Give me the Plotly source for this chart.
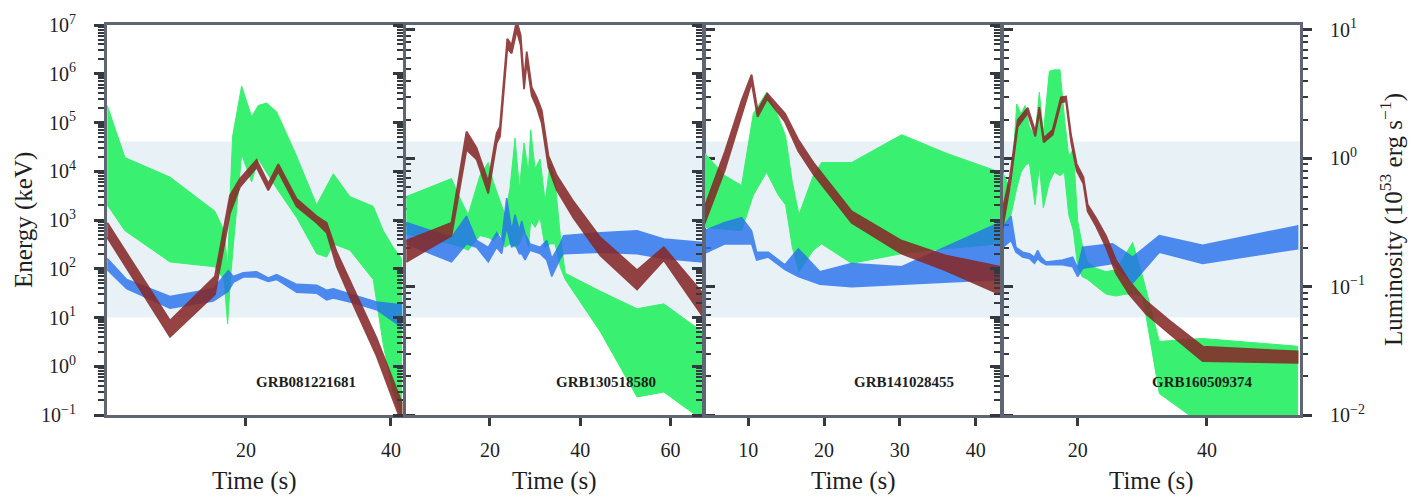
import plotly.graph_objects as go

# ---------------- data (log10 values) ----------------
# Energy bands are log10(E / keV); luminosity bands are log10(L / 1e53 erg s^-1)
GRB_NAMES = ["GRB081221681", "GRB130518580", "GRB141028455", "GRB160509374"]

# Panel 1
P1_GREEN_T = [0.87, 3.31, 9.52, 15.72, 16.97, 17.47, 17.89, 18.16, 19.40, 20.78, 21.70, 22.85, 24.23, 26.99, 29.75, 31.13, 32.05, 34.34, 37.56, 38.94, 40.32, 41.47]
P1_GREEN_HI = [5.35, 4.28, 3.88, 3.18, 2.78, 2.04, 3.78, 4.72, 5.75, 5.12, 5.35, 5.40, 5.22, 4.31, 3.31, 3.68, 3.95, 3.48, 3.28, 2.78, 2.44, 2.21]
P1_GREEN_LO = [3.31, 2.78, 2.14, 2.04, 1.78, 0.87, 1.84, 2.31, 4.35, 3.78, 4.25, 3.98, 3.65, 3.05, 2.31, 2.24, 2.51, 2.38, 1.78, 0.44, -0.56, -1.03]
P1_BLUE_T = [0.87, 3.54, 9.52, 15.49, 17.56, 18.25, 19.63, 21.47, 23.08, 24.23, 26.99, 29.75, 31.13, 32.05, 34.80, 38.02, 41.47]
P1_BLUE_HI = [2.21, 1.78, 1.43, 1.59, 1.96, 1.84, 1.92, 1.94, 1.81, 1.88, 1.68, 1.66, 1.56, 1.59, 1.46, 1.32, 1.26]
P1_BLUE_LO = [1.98, 1.59, 1.19, 1.34, 1.54, 1.72, 1.83, 1.83, 1.74, 1.78, 1.52, 1.50, 1.36, 1.40, 1.30, 1.16, 0.81]
P1_LUM_T = [0.87, 9.52, 15.72, 17.79, 19.17, 21.47, 23.08, 24.46, 26.99, 29.75, 31.13, 32.51, 34.80, 38.02, 41.47]
P1_LUM_HI = [-0.503, -1.264, -0.920, -0.290, -0.160, -0.013, -0.198, -0.046, -0.317, -0.452, -0.503, -0.730, -1.010, -1.400, -1.900]
P1_LUM_LO = [-0.617, -1.391, -1.060, -0.430, -0.223, -0.071, -0.249, -0.104, -0.376, -0.503, -0.579, -0.840, -1.140, -1.540, -2.060]

# Panel 2
P2_GREEN_T = [1.48, 11.48, 13.70, 15.19, 17.78, 19.63, 20.74, 22.22, 23.33, 24.44, 25.56, 26.52, 27.56, 28.52, 29.04, 30.00, 31.11, 32.22, 33.33, 34.44, 35.56, 36.67, 44.44, 52.59, 58.52, 67.04]
P2_GREEN_HI = [3.48, 3.85, 3.38, 3.11, 3.91, 4.18, 3.78, 3.38, 3.11, 3.65, 4.68, 3.65, 4.58, 3.98, 4.85, 4.05, 4.25, 3.38, 4.15, 3.78, 2.71, 1.91, 1.54, 1.18, 1.28, 0.71]
P2_GREEN_LO = [2.71, 2.51, 2.44, 2.38, 2.68, 2.64, 2.58, 2.74, 2.44, 2.51, 2.44, 2.51, 2.78, 2.44, 2.98, 2.85, 3.05, 2.44, 2.51, 2.51, 2.04, 1.78, 0.71, -0.63, -0.53, -1.10]
P2_BLUE_T = [1.48, 11.48, 14.81, 17.04, 19.63, 21.48, 22.59, 23.70, 24.81, 25.56, 26.52, 27.04, 27.78, 28.89, 31.11, 32.59, 33.70, 35.56, 36.30, 44.44, 52.59, 58.52, 67.04]
P2_BLUE_HI = [2.95, 2.64, 3.08, 2.58, 2.44, 2.74, 2.58, 3.45, 2.78, 3.11, 2.78, 2.98, 2.71, 2.51, 2.44, 2.58, 2.21, 2.51, 2.68, 2.74, 2.78, 2.61, 2.54]
P2_BLUE_LO = [2.51, 2.14, 2.51, 2.44, 2.14, 2.44, 2.31, 2.85, 2.44, 2.51, 2.31, 2.31, 2.18, 2.38, 2.31, 2.18, 1.84, 2.21, 2.31, 2.34, 2.31, 2.21, 2.14]
P2_LUM_T = [1.48, 11.48, 14.81, 17.04, 19.63, 21.48, 22.22, 23.85, 24.81, 25.93, 26.81, 27.56, 28.15, 29.26, 30.37, 31.48, 32.96, 34.81, 38.52, 44.44, 52.59, 58.52, 67.04]
P2_LUM_HI = [-0.642, -0.503, 0.208, 0.081, -0.185, 0.195, 0.246, 0.931, 0.881, 1.071, 0.957, 0.601, 0.830, 0.551, 0.475, 0.373, 0.018, -0.135, -0.338, -0.617, -0.871, -0.693, -1.048]
P2_LUM_LO = [-0.807, -0.604, 0.068, -0.008, -0.274, 0.119, 0.170, 0.855, 0.817, 0.995, 0.881, 0.538, 0.754, 0.487, 0.398, 0.272, -0.071, -0.249, -0.465, -0.756, -1.023, -0.794, -1.226]

# Panel 3
P3_GREEN_T = [4.19, 6.92, 9.12, 10.66, 12.42, 13.96, 14.93, 15.81, 16.69, 18.58, 19.68, 23.64, 30.24, 35.96, 43.22]
P3_GREEN_HI = [4.38, 3.91, 3.71, 5.18, 5.62, 5.12, 4.72, 3.78, 3.11, 3.91, 4.18, 4.18, 4.75, 4.38, 3.98]
P3_GREEN_LO = [2.85, 2.81, 2.78, 3.51, 3.98, 3.51, 3.31, 2.44, 1.94, 2.38, 2.51, 2.11, 2.31, 2.41, 2.51]
P3_BLUE_T = [4.19, 6.92, 9.12, 10.44, 11.10, 12.64, 14.84, 16.60, 19.46, 23.64, 30.24, 35.96, 43.22]
P3_BLUE_HI = [2.78, 2.95, 3.05, 2.78, 2.34, 2.34, 2.08, 2.41, 1.94, 2.11, 2.04, 2.44, 2.95]
P3_BLUE_LO = [2.31, 2.51, 2.51, 2.51, 2.18, 2.24, 1.98, 1.84, 1.68, 1.63, 1.68, 1.72, 1.78]
P3_LUM_T = [4.19, 6.92, 9.12, 10.44, 11.23, 12.51, 14.84, 16.60, 18.58, 23.64, 30.24, 35.96, 43.22]
P3_LUM_HI = [-0.388, 0.050, 0.450, 0.652, 0.373, 0.505, 0.348, 0.145, -0.033, -0.414, -0.642, -0.756, -0.845]
P3_LUM_LO = [-0.515, -0.090, 0.330, 0.589, 0.322, 0.462, 0.284, 0.056, -0.122, -0.503, -0.744, -0.871, -1.061]

# Panel 4
P4_GREEN_T = [8.40, 9.69, 10.57, 11.24, 11.86, 12.53, 13.40, 14.07, 14.69, 15.62, 16.39, 17.27, 17.94, 18.61, 19.33, 20.00, 20.67, 21.55, 22.84, 24.38, 25.93, 27.47, 28.51, 30.05, 32.63, 39.33, 54.02]
P4_GREEN_HI = [3.98, 3.60, 5.38, 5.18, 5.35, 4.92, 4.72, 5.62, 4.78, 6.05, 6.08, 6.08, 5.12, 4.31, 4.45, 2.98, 2.51, 2.14, 2.01, 1.94, 1.98, 2.31, 2.54, 1.84, 0.51, 0.57, 0.41]
P4_GREEN_LO = [2.85, 3.11, 3.65, 3.98, 4.11, 4.18, 3.31, 4.11, 3.25, 3.78, 3.98, 3.91, 3.98, 3.11, 2.78, 2.04, 1.84, 1.78, 1.64, 1.48, 1.44, 1.48, 1.48, 1.44, -0.56, -1.20, -1.20]
P4_BLUE_T = [8.40, 9.69, 10.46, 11.49, 12.53, 13.30, 13.81, 14.33, 15.10, 17.68, 19.23, 20.00, 20.77, 25.41, 28.51, 32.63, 39.33, 54.02]
P4_BLUE_HI = [2.85, 3.08, 2.44, 2.34, 2.31, 2.24, 2.38, 2.24, 2.14, 2.18, 2.24, 2.01, 2.44, 2.51, 2.24, 2.68, 2.48, 2.88]
P4_BLUE_LO = [2.44, 2.58, 2.34, 2.24, 2.21, 2.11, 2.21, 2.14, 2.08, 2.08, 2.04, 1.84, 2.01, 2.11, 1.71, 2.34, 2.11, 2.41]
P4_LUM_T = [8.40, 9.54, 10.72, 12.27, 13.45, 14.07, 14.74, 16.13, 17.42, 18.20, 18.97, 19.85, 20.88, 21.55, 22.84, 24.38, 25.93, 27.99, 30.57, 34.18, 39.33, 54.02]
P4_LUM_HI = [-0.401, -0.135, 0.297, 0.393, 0.208, 0.398, 0.157, 0.221, 0.475, 0.480, 0.183, -0.046, -0.147, -0.363, -0.465, -0.604, -0.794, -0.959, -1.112, -1.264, -1.467, -1.505]
P4_LUM_LO = [-0.541, -0.211, 0.246, 0.353, 0.170, 0.360, 0.124, 0.183, 0.436, 0.444, 0.132, -0.097, -0.198, -0.414, -0.528, -0.693, -0.896, -1.061, -1.213, -1.366, -1.581, -1.594]

# shaded energy window (keV)
WINDOW_KEV = [10, 4.1e4]

# axis ranges / ticks
X_RANGES = [[0.83, 41.66], [1.4, 67.2], [4.3, 43.35], [8.44, 54.39]]
X_TICKS = [[20, 40], [20, 40, 60], [10, 20, 30, 40], [20, 40]]
E_TICKS = [1e-1, 1e0, 1e1, 1e2, 1e3, 1e4, 1e5, 1e6, 1e7]
E_TICKTEXT = ["10<sup>−1</sup>", "10<sup>0</sup>", "10<sup>1</sup>", "10<sup>2</sup>", "10<sup>3</sup>",
              "10<sup>4</sup>", "10<sup>5</sup>", "10<sup>6</sup>", "10<sup>7</sup>"]
L_TICKS = [1e-2, 1e-1, 1e0, 1e1]
L_TICKTEXT = ["10<sup>−2</sup>", "10<sup>−1</sup>", "10<sup>0</sup>", "10<sup>1</sup>"]

# ---------------- styling ----------------
FONT = "Liberation Serif"
GREEN = "rgb(58,240,112)"
BLUE = "rgb(38,112,238)"
BLUE_OPACITY = 0.80
BROWN = "rgb(134,40,40)"
BROWN_OPACITY = 0.87
WINDOW_COLOR = "#e7f1f6"
FRAME = "#5f6672"
TICKC = "#34383f"
TXT = "#1e1e1e"

DOMAINS = [[0.0, 0.2481], [0.2506, 0.4996], [0.5013, 0.7494], [0.7510, 1.0]]

PANELS = [
    (P1_GREEN_T, P1_GREEN_LO, P1_GREEN_HI, P1_BLUE_T, P1_BLUE_LO, P1_BLUE_HI, P1_LUM_T, P1_LUM_LO, P1_LUM_HI),
    (P2_GREEN_T, P2_GREEN_LO, P2_GREEN_HI, P2_BLUE_T, P2_BLUE_LO, P2_BLUE_HI, P2_LUM_T, P2_LUM_LO, P2_LUM_HI),
    (P3_GREEN_T, P3_GREEN_LO, P3_GREEN_HI, P3_BLUE_T, P3_BLUE_LO, P3_BLUE_HI, P3_LUM_T, P3_LUM_LO, P3_LUM_HI),
    (P4_GREEN_T, P4_GREEN_LO, P4_GREEN_HI, P4_BLUE_T, P4_BLUE_LO, P4_BLUE_HI, P4_LUM_T, P4_LUM_LO, P4_LUM_HI),
]


def band_xy(t, lo, hi):
    x = list(t) + list(t)[::-1]
    y = [10 ** v for v in hi] + [10 ** v for v in lo][::-1]
    return x, y


e_minor = [m * 10 ** k for k in range(-1, 7) for m in range(2, 10)]
l_minor = [m * 10 ** k for k in range(-2, 1) for m in range(2, 10) if m * 10 ** k < 10 ** 1.038]

fig = go.Figure()
layout = dict(
    width=1419, height=500,
    margin=dict(l=107, r=119, t=16, b=85),
    paper_bgcolor="white", plot_bgcolor="white",
    showlegend=False,
    font=dict(family=FONT, color=TXT, size=20),
)
shapes = []
annotations = []

for i, (gt, glo, ghi, bt, blo, bhi, lt, llo, lhi) in enumerate(PANELS):
    n = i + 1
    xname = "x" if n == 1 else f"x{n}"
    ye = 2 * i + 1
    yl = 2 * i + 2
    ye_name = "y" if ye == 1 else f"y{ye}"
    yl_name = f"y{yl}"

    gx, gy = band_xy(gt, glo, ghi)
    fig.add_trace(go.Scatter(x=gx, y=gy, xaxis=xname, yaxis=ye_name, fill="toself",
                             fillcolor=GREEN, mode="lines", line=dict(width=1, color=GREEN),
                             hoverinfo="skip"))
    bx, by = band_xy(bt, blo, bhi)
    fig.add_trace(go.Scatter(x=bx, y=by, xaxis=xname, yaxis=ye_name, fill="toself",
                             fillcolor=BLUE, mode="lines", line=dict(width=1.5, color=BLUE),
                             opacity=BLUE_OPACITY, hoverinfo="skip"))
    lx, ly = band_xy(lt, llo, lhi)
    fig.add_trace(go.Scatter(x=lx, y=ly, xaxis=xname, yaxis=yl_name, fill="toself",
                             fillcolor=BROWN, mode="lines", line=dict(width=1.8, color=BROWN),
                             opacity=BROWN_OPACITY, hoverinfo="skip"))

    xkey = "xaxis" if n == 1 else f"xaxis{n}"
    yekey = "yaxis" if ye == 1 else f"yaxis{ye}"
    ylkey = f"yaxis{yl}"

    layout[xkey] = dict(
        domain=DOMAINS[i], anchor=ye_name, range=X_RANGES[i],
        tickmode="array", tickvals=X_TICKS[i], ticktext=[str(v) for v in X_TICKS[i]],
        showline=True, mirror=True, linecolor=FRAME, linewidth=3,
        ticks="outside", ticklen=8, tickwidth=3, tickcolor=TICKC,
        showgrid=False, zeroline=False,
        tickfont=dict(family=FONT, size=20, color=TXT), ticklabelstandoff=7,
    )
    layout[yekey] = dict(
        domain=[0, 1], anchor=xname, type="log", range=[-1, 7],
        tickmode="array", tickvals=E_TICKS, ticktext=E_TICKTEXT,
        showticklabels=(n == 1),
        showline=True, mirror=False, linecolor=FRAME, linewidth=3,
        ticks="outside", ticklen=10, tickwidth=3, tickcolor=TICKC,
        minor=dict(tickmode="array", tickvals=e_minor, ticks="outside", ticklen=6,
                   tickwidth=1.5, tickcolor=TICKC, showgrid=False),
        showgrid=False, zeroline=False,
        tickfont=dict(family=FONT, size=20, color=TXT), ticklabelstandoff=14,
    )
    layout[ylkey] = dict(
        anchor=xname, overlaying=ye_name, side="right", type="log", range=[-2, 1.038],
        tickmode="array", tickvals=L_TICKS, ticktext=L_TICKTEXT,
        showticklabels=(n == 4),
        showline=True, mirror=False, linecolor=FRAME, linewidth=3,
        ticks="outside", ticklen=9, tickwidth=3, tickcolor=TICKC,
        minor=dict(tickmode="array", tickvals=l_minor, ticks="outside", ticklen=5,
                   tickwidth=1.5, tickcolor=TICKC, showgrid=False),
        showgrid=False, zeroline=False,
        tickfont=dict(family=FONT, size=20, color=TXT), ticklabelstandoff=14,
    )

    shapes.append(dict(type="rect", xref=f"{xname} domain", yref=ye_name,
                       x0=0, x1=1, y0=WINDOW_KEV[0], y1=WINDOW_KEV[1], fillcolor=WINDOW_COLOR,
                       line=dict(width=0), layer="below"))

    annotations.append(dict(text=f"<b>{GRB_NAMES[i]}</b>", xref=f"{xname} domain",
                            yref=f"{ye_name} domain", x=0.672, y=0.085,
                            showarrow=False, xanchor="center", yanchor="middle",
                            font=dict(family=FONT, size=15, color=TXT)))
    annotations.append(dict(text="Time (s)", xref=f"{xname} domain", yref="paper",
                            x=0.5, y=-0.1704, showarrow=False, xanchor="center",
                            yanchor="middle", font=dict(family=FONT, size=25, color=TXT)))

annotations.append(dict(text="Energy (keV)", xref="paper", yref="paper", x=-0.0696, y=0.5,
                        textangle=-90, showarrow=False, xanchor="center", yanchor="middle",
                        font=dict(family=FONT, size=25, color=TXT)))
annotations.append(dict(text="Luminosity (10<sup>53</sup> erg s<sup>−1</sup>)", xref="paper",
                        yref="paper", x=1.0763, y=0.5, textangle=-90, showarrow=False,
                        xanchor="center", yanchor="middle",
                        font=dict(family=FONT, size=25, color=TXT)))

layout["shapes"] = shapes
layout["annotations"] = annotations
fig.update_layout(**layout)

fig.write_html("out.html")
